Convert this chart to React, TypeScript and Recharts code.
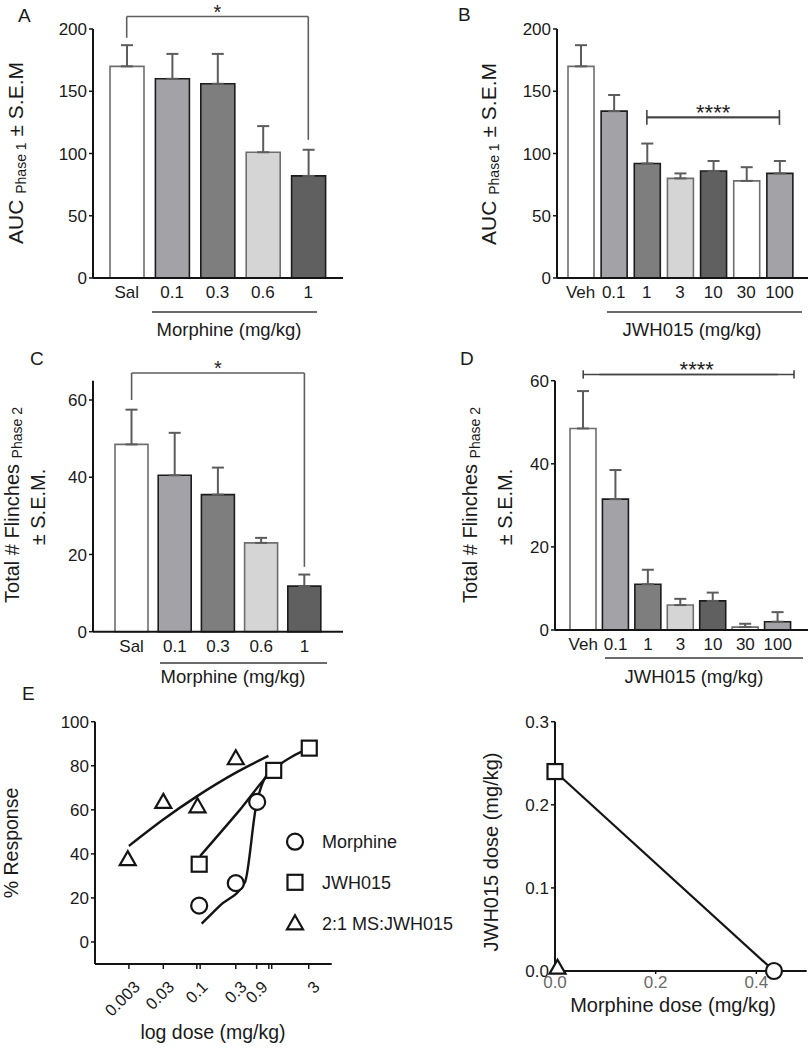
import React from "react";
import {
  BarChart,
  Bar,
  Cell,
  ErrorBar,
  XAxis,
  YAxis,
  ReferenceLine,
  ComposedChart,
  Line,
  Scatter,
} from "recharts";

const FONT = "'Liberation Sans', Arial, Helvetica, sans-serif";
const INK = "#141414";
const BRACKET = "#5e5e5e";

// ---- values ----
const morphineDoses = ["Sal", "0.1", "0.3", "0.6", "1"];
const jwhDoses = ["Veh", "0.1", "1", "3", "10", "30", "100"];

// A / B : AUC phase 1
const aucMorphine = [170, 160, 156, 101, 82];
const aucMorphineSem = [17, 20, 24, 21, 21];
const aucJwh = [170, 134, 92, 80, 86, 78, 84];
const aucJwhSem = [17, 13, 16, 4, 8, 11, 10];

// C / D : flinches phase 2
const flinchMorphine = [48.5, 40.5, 35.5, 23, 11.8];
const flinchMorphineSem = [9, 11, 7, 1.3, 3];
const flinchJwh = [48.5, 31.5, 11, 6, 7, 0.7, 2];
const flinchJwhSem = [9, 7, 3.5, 1.5, 2, 0.8, 2.3];

const morphineFills = ["#ffffff", "#a3a3a7", "#7e7e7e", "#d5d5d5", "#606060"];
const jwhFills = ["#ffffff", "#a3a3a7", "#7e7e7e", "#d5d5d5", "#606060", "#ffffff", "#a3a3a7"];

// E : dose response
const morphineDose = [0.1, 0.31, 0.6];
const morphineResp = [16.5, 26.7, 63.6];
const jwhDose = [0.1, 1, 3];
const jwhResp = [35.3, 77.9, 88];
const comboDose = [0.011, 0.033, 0.095, 0.31];
const comboResp = [37.6, 63.6, 61.6, 83.4];

// fitted curves
const morphineFitDose = [0.108, 0.19, 0.41, 0.58, 0.94];
const morphineFitResp = [8.3, 16.5, 27, 61.6, 78.9];
const jwhFitDose = [0.103, 0.325, 0.99, 3];
const jwhFitResp = [39, 58.6, 78.2, 88];
const comboFitDose = [0.0114, 0.033, 0.093, 0.32, 0.85];
const comboFitResp = [43.6, 55.6, 66.1, 77.1, 84.5];

const eTicks = [0.0114, 0.033, 0.093, 0.103, 0.31, 0.59, 0.86, 0.94, 2.95];
const eTickLabels = ["0.003", "0.03", "0.1", "", "0.3", "0.9", "", "", "3"];
const eSeriesNames = ["Morphine", "JWH015", "2:1 MS:JWH015"];

// isobologram
const isoMorphineEd50 = 0.435;
const isoJwhEd50 = 0.24;
const isoComboMorphine = 0.005;
const isoComboJwh = 0.004;

// ---- shared styles ----
const axisStyle = { stroke: INK, strokeWidth: 2 };
const tickLineStyle = { stroke: INK, strokeWidth: 1.5 };
const tickStyle = { fill: "#1a1a1a", fontSize: 17 };

const isLight = (c: string) => c === "#ffffff" || c === "#d5d5d5";
const toPts = (xs: number[], ys: number[]) => xs.map((x, i) => ({ x, y: ys[i] }));

type BarPanelProps = {
  doses: string[];
  values: number[];
  sems: number[];
  fills: string[];
  width: number;
  height: number;
  margin: { top: number; right: number; left: number; bottom: number };
  domain: [number, number];
  ticks: number[];
  padding: { left: number; right: number };
  barSize: number;
  children?: React.ReactNode;
};

function BarPanel(p: BarPanelProps) {
  const rows = p.doses.map((dose, i) => ({ dose, value: p.values[i], sem: [0, p.sems[i]] }));
  return (
    <BarChart width={p.width} height={p.height} data={rows} margin={p.margin}>
      <XAxis
        dataKey="dose"
        interval={0}
        tickLine={false}
        height={30}
        padding={p.padding}
        axisLine={axisStyle}
        tick={tickStyle}
      />
      <YAxis
        type="number"
        domain={p.domain}
        ticks={p.ticks}
        width={60}
        tickSize={4}
        axisLine={axisStyle}
        tickLine={tickLineStyle}
        tick={tickStyle}
      />
      <Bar dataKey="value" barSize={p.barSize} isAnimationActive={false}>
        {rows.map((r, i) => (
          <Cell
            key={r.dose}
            fill={p.fills[i]}
            stroke={isLight(p.fills[i]) ? "#6e6e6e" : "#1c1c1c"}
            strokeWidth={1.6}
          />
        ))}
        <ErrorBar dataKey="sem" width={6} stroke="#5c5c5c" strokeWidth={2} direction="y" />
      </Bar>
      {p.children}
    </BarChart>
  );
}

// bracket that drops down to two bars
function dropBracket(key: string, from: string, to: string, top: number, leftEnd: number, rightEnd: number, stars: string) {
  const common = { stroke: BRACKET, strokeWidth: 1.6, ifOverflow: "visible" as const };
  return [
    <ReferenceLine
      key={key + "h"}
      {...common}
      segment={[{ x: from, y: top }, { x: to, y: top }]}
      label={{ value: stars, position: "top", offset: -2, fontSize: 20, fill: "#222" }}
    />,
    <ReferenceLine key={key + "l"} {...common} segment={[{ x: from, y: top }, { x: from, y: leftEnd }]} />,
    <ReferenceLine key={key + "r"} {...common} segment={[{ x: to, y: top }, { x: to, y: rightEnd }]} />,
  ];
}

// horizontal bar with end caps; rightPos lets the right end sit at the band edge
function capBracket(
  key: string,
  from: string,
  to: string,
  y: number,
  half: number,
  stars: string,
  rightPos: "middle" | "end" = "middle"
) {
  const common = { stroke: "#444", strokeWidth: 1.6, ifOverflow: "visible" as const };
  return [
    <ReferenceLine key={key + "h"} {...common} segment={[{ x: from, y }, { x: to, y }]} />,
    <ReferenceLine key={key + "l"} {...common} segment={[{ x: from, y: y - half }, { x: from, y: y + half }]} />,
    <ReferenceLine
      key={key + "r"}
      {...common}
      position={rightPos}
      segment={[{ x: to, y: y - half }, { x: to, y: y + half }]}
    />,
    <ReferenceLine
      key={key + "s"}
      {...common}
      position={rightPos}
      segment={[{ x: from, y }, { x: to, y }]}
      label={{ value: stars, position: "top", offset: -3, fontSize: 22, fill: "#222" }}
    />,
  ];
}

const OpenCircle = (p: any) => (
  <circle cx={p.cx} cy={p.cy} r={8} fill="#fff" stroke={INK} strokeWidth={2.2} />
);
const OpenSquare = (p: any) => (
  <rect x={p.cx - 7.5} y={p.cy - 7.5} width={15} height={15} fill="#fff" stroke={INK} strokeWidth={2.2} />
);
const OpenTriangle = (p: any) => (
  <path
    d={`M${p.cx},${p.cy - 8} L${p.cx + 8},${p.cy + 6} L${p.cx - 8},${p.cy + 6} Z`}
    fill="#fff"
    stroke={INK}
    strokeWidth={2.2}
  />
);

const LogTick = (props: any) => {
  const { x, y, payload } = props;
  const idx = eTicks.indexOf(payload.value);
  const label = idx >= 0 ? eTickLabels[idx] : "";
  if (!label) return <g />;
  const ax = x + 12;
  const ay = y + 17;
  return (
    <text x={ax} y={ay} transform={`rotate(-45 ${ax} ${ay})`} textAnchor="end" fontSize={16.5} fill="#1a1a1a">
      {label}
    </text>
  );
};

function DoseResponse() {
  return (
    <ComposedChart width={335} height={410} margin={{ top: 81.7, right: 3.3, left: 35, bottom: 26 }}>
      <XAxis
        dataKey="x"
        type="number"
        scale="log"
        domain={[0.004, 6]}
        ticks={eTicks}
        interval={0}
        height={60}
        tickSize={5}
        axisLine={axisStyle}
        tickLine={tickLineStyle}
        tick={(t: any) => <LogTick {...t} />}
      />
      <YAxis
        type="number"
        domain={[-10, 100]}
        ticks={[0, 20, 40, 60, 80, 100]}
        width={60}
        tickSize={4}
        axisLine={axisStyle}
        tickLine={tickLineStyle}
        tick={tickStyle}
      />
      <Line data={toPts(comboFitDose, comboFitResp)} dataKey="y" type="monotone" dot={false} activeDot={false} stroke={INK} strokeWidth={2.4} isAnimationActive={false} />
      <Line data={toPts(jwhFitDose, jwhFitResp)} dataKey="y" type="monotone" dot={false} activeDot={false} stroke={INK} strokeWidth={2.4} isAnimationActive={false} />
      <Line data={toPts(morphineFitDose, morphineFitResp)} dataKey="y" type="monotone" dot={false} activeDot={false} stroke={INK} strokeWidth={2.4} isAnimationActive={false} />
      <Scatter data={toPts(comboDose, comboResp)} dataKey="y" shape={OpenTriangle} isAnimationActive={false} />
      <Scatter data={toPts(jwhDose, jwhResp)} dataKey="y" shape={OpenSquare} isAnimationActive={false} />
      <Scatter data={toPts(morphineDose, morphineResp)} dataKey="y" shape={OpenCircle} isAnimationActive={false} />
    </ComposedChart>
  );
}

function Isobologram() {
  const fmt = (v: number) => v.toFixed(1);
  return (
    <ComposedChart width={328} height={410} margin={{ top: 81.7, right: 1.3, left: 15, bottom: 49 }}>
      <XAxis
        dataKey="x"
        type="number"
        domain={[0, 0.5]}
        ticks={[0, 0.2, 0.4]}
        tickFormatter={fmt}
        height={30}
        tickSize={3}
        axisLine={axisStyle}
        tickLine={tickLineStyle}
        tick={{ ...tickStyle, fill: "#6a6a6a" }}
      />
      <YAxis
        type="number"
        domain={[0, 0.3]}
        ticks={[0, 0.1, 0.2, 0.3]}
        tickFormatter={fmt}
        width={60}
        tickSize={4}
        axisLine={axisStyle}
        tickLine={tickLineStyle}
        tick={tickStyle}
      />
      <Line
        data={[{ x: 0, y: isoJwhEd50 }, { x: isoMorphineEd50, y: 0 }]}
        dataKey="y"
        type="linear"
        dot={false}
        activeDot={false}
        stroke={INK}
        strokeWidth={2.2}
        isAnimationActive={false}
      />
      <Scatter data={[{ x: isoComboMorphine, y: isoComboJwh }]} dataKey="y" shape={OpenTriangle} isAnimationActive={false} />
      <Scatter data={[{ x: 0, y: isoJwhEd50 }]} dataKey="y" shape={OpenSquare} isAnimationActive={false} />
      <Scatter data={[{ x: isoMorphineEd50, y: 0 }]} dataKey="y" shape={OpenCircle} isAnimationActive={false} />
    </ComposedChart>
  );
}

const VLabel = ({ x, y, main, sub, tail, size = 21 }: any) => (
  <text transform={`translate(${x},${y}) rotate(-90)`} textAnchor="middle" fontSize={size}>
    <tspan>{main}</tspan>
    {sub && (
      <tspan fontSize={14} dy={3}>
        {sub}
      </tspan>
    )}
    {tail && <tspan dy={sub ? -3 : 0}>{tail}</tspan>}
  </text>
);

function Overlay() {
  const letters = [
    { t: "A", x: 18, y: 22 },
    { t: "B", x: 458, y: 21 },
    { t: "C", x: 30, y: 365 },
    { t: "D", x: 460, y: 365 },
    { t: "E", x: 22, y: 700 },
  ];
  const legendRows = [841.7, 882.3, 923.3];
  const legendShapes = [OpenCircle, OpenSquare, OpenTriangle];
  return (
    <svg
      width={808}
      height={1050}
      style={{ position: "absolute", left: 0, top: 0, pointerEvents: "none" }}
      fontFamily={FONT}
      fill="#1a1a1a"
    >
      {letters.map((l) => (
        <text key={l.t} x={l.x} y={l.y} fontSize={19}>
          {l.t}
        </text>
      ))}

      <VLabel x={23} y={153} main="AUC " sub="Phase 1" tail=" ± S.E.M" />
      <VLabel x={496} y={154} main="AUC " sub="Phase 1" tail=" ± S.E.M" />
      <VLabel x={18.5} y={505} main="Total # Flinches " sub="Phase 2" size={20} />
      <VLabel x={45} y={507} main="± S.E.M." size={20} />
      <VLabel x={477} y={505} main="Total # Flinches " sub="Phase 2" size={20} />
      <VLabel x={512} y={507} main="± S.E.M." size={20} />
      <VLabel x={18} y={843} main="% Response" size={19.5} />
      <VLabel x={498} y={852} main="JWH015 dose (mg/kg)" size={20} />

      <g stroke="#3a3a3a" strokeWidth={1.6}>
        <line x1={152} y1={312} x2={317} y2={312} />
        <line x1={607} y1={312} x2={802} y2={312} />
        <line x1={160} y1={663} x2={327} y2={663} />
        <line x1={605} y1={658} x2={803} y2={658} />
      </g>
      <g fontSize={18.5} textAnchor="middle">
        <text x={229} y={336}>Morphine (mg/kg)</text>
        <text x={692} y={336}>JWH015 (mg/kg)</text>
        <text x={233} y={683}>Morphine (mg/kg)</text>
        <text x={694} y={683}>JWH015 (mg/kg)</text>
      </g>
      <text x={213} y={1039} fontSize={19.5} textAnchor="middle">
        log dose (mg/kg)
      </text>
      <text x={673} y={1012} fontSize={20} textAnchor="middle">
        Morphine dose (mg/kg)
      </text>

      {eSeriesNames.map((name, i) => {
        const Shape = legendShapes[i];
        return (
          <g key={name}>
            <Shape cx={295} cy={legendRows[i]} />
            <text x={322} y={legendRows[i] + 6.5} fontSize={18}>
              {name}
            </text>
          </g>
        );
      })}
    </svg>
  );
}

const At = ({ left, top, children }: any) => (
  <div style={{ position: "absolute", left, top }}>{children}</div>
);

export default function App() {
  return (
    <div
      style={{
        position: "absolute",
        left: 0,
        top: 0,
        width: 808,
        height: 1050,
        background: "#fff",
        fontFamily: FONT,
        overflow: "hidden",
      }}
    >
      <At left={0} top={0}>
        <BarPanel
          doses={morphineDoses}
          values={aucMorphine}
          sems={aucMorphineSem}
          fills={morphineFills}
          width={345}
          height={320}
          margin={{ top: 29, right: 2, left: 33, bottom: 12 }}
          domain={[0, 200]}
          ticks={[0, 50, 100, 150, 200]}
          padding={{ left: 11, right: 12 }}
          barSize={34}
        >
          {dropBracket("a", "Sal", "1", 210, 193, 111, "*")}
        </BarPanel>
      </At>

      <At left={400} top={0}>
        <BarPanel
          doses={jwhDoses}
          values={aucJwh}
          sems={aucJwhSem}
          fills={jwhFills}
          width={408}
          height={320}
          margin={{ top: 29, right: 0, left: 97, bottom: 12 }}
          domain={[0, 200]}
          ticks={[0, 50, 100, 150, 200]}
          padding={{ left: 7, right: 12 }}
          barSize={26}
        >
          {capBracket("b", "1", "100", 129, 6, "****")}
        </BarPanel>
      </At>

      <At left={0} top={320}>
        <BarPanel
          doses={morphineDoses}
          values={flinchMorphine}
          sems={flinchMorphineSem}
          fills={morphineFills}
          width={345}
          height={350}
          margin={{ top: 60.7, right: 2, left: 33, bottom: 8.3 }}
          domain={[0, 65]}
          ticks={[0, 20, 40, 60]}
          padding={{ left: 17, right: 17 }}
          barSize={33}
        >
          {dropBracket("c", "Sal", "1", 67, 60, 16.8, "*")}
        </BarPanel>
      </At>

      <At left={400} top={320}>
        <BarPanel
          doses={jwhDoses}
          values={flinchJwh}
          sems={flinchJwhSem}
          fills={jwhFills}
          width={408}
          height={350}
          margin={{ top: 60.7, right: 0, left: 95, bottom: 10 }}
          domain={[0, 60]}
          ticks={[0, 20, 40, 60]}
          padding={{ left: 12, right: 14 }}
          barSize={26}
        >
          {capBracket("d", "Veh", "100", 61.5, 1, "****", "end")}
        </BarPanel>
      </At>

      <At left={0} top={640}>
        <DoseResponse />
      </At>

      <At left={480} top={640}>
        <Isobologram />
      </At>

      <Overlay />
    </div>
  );
}
